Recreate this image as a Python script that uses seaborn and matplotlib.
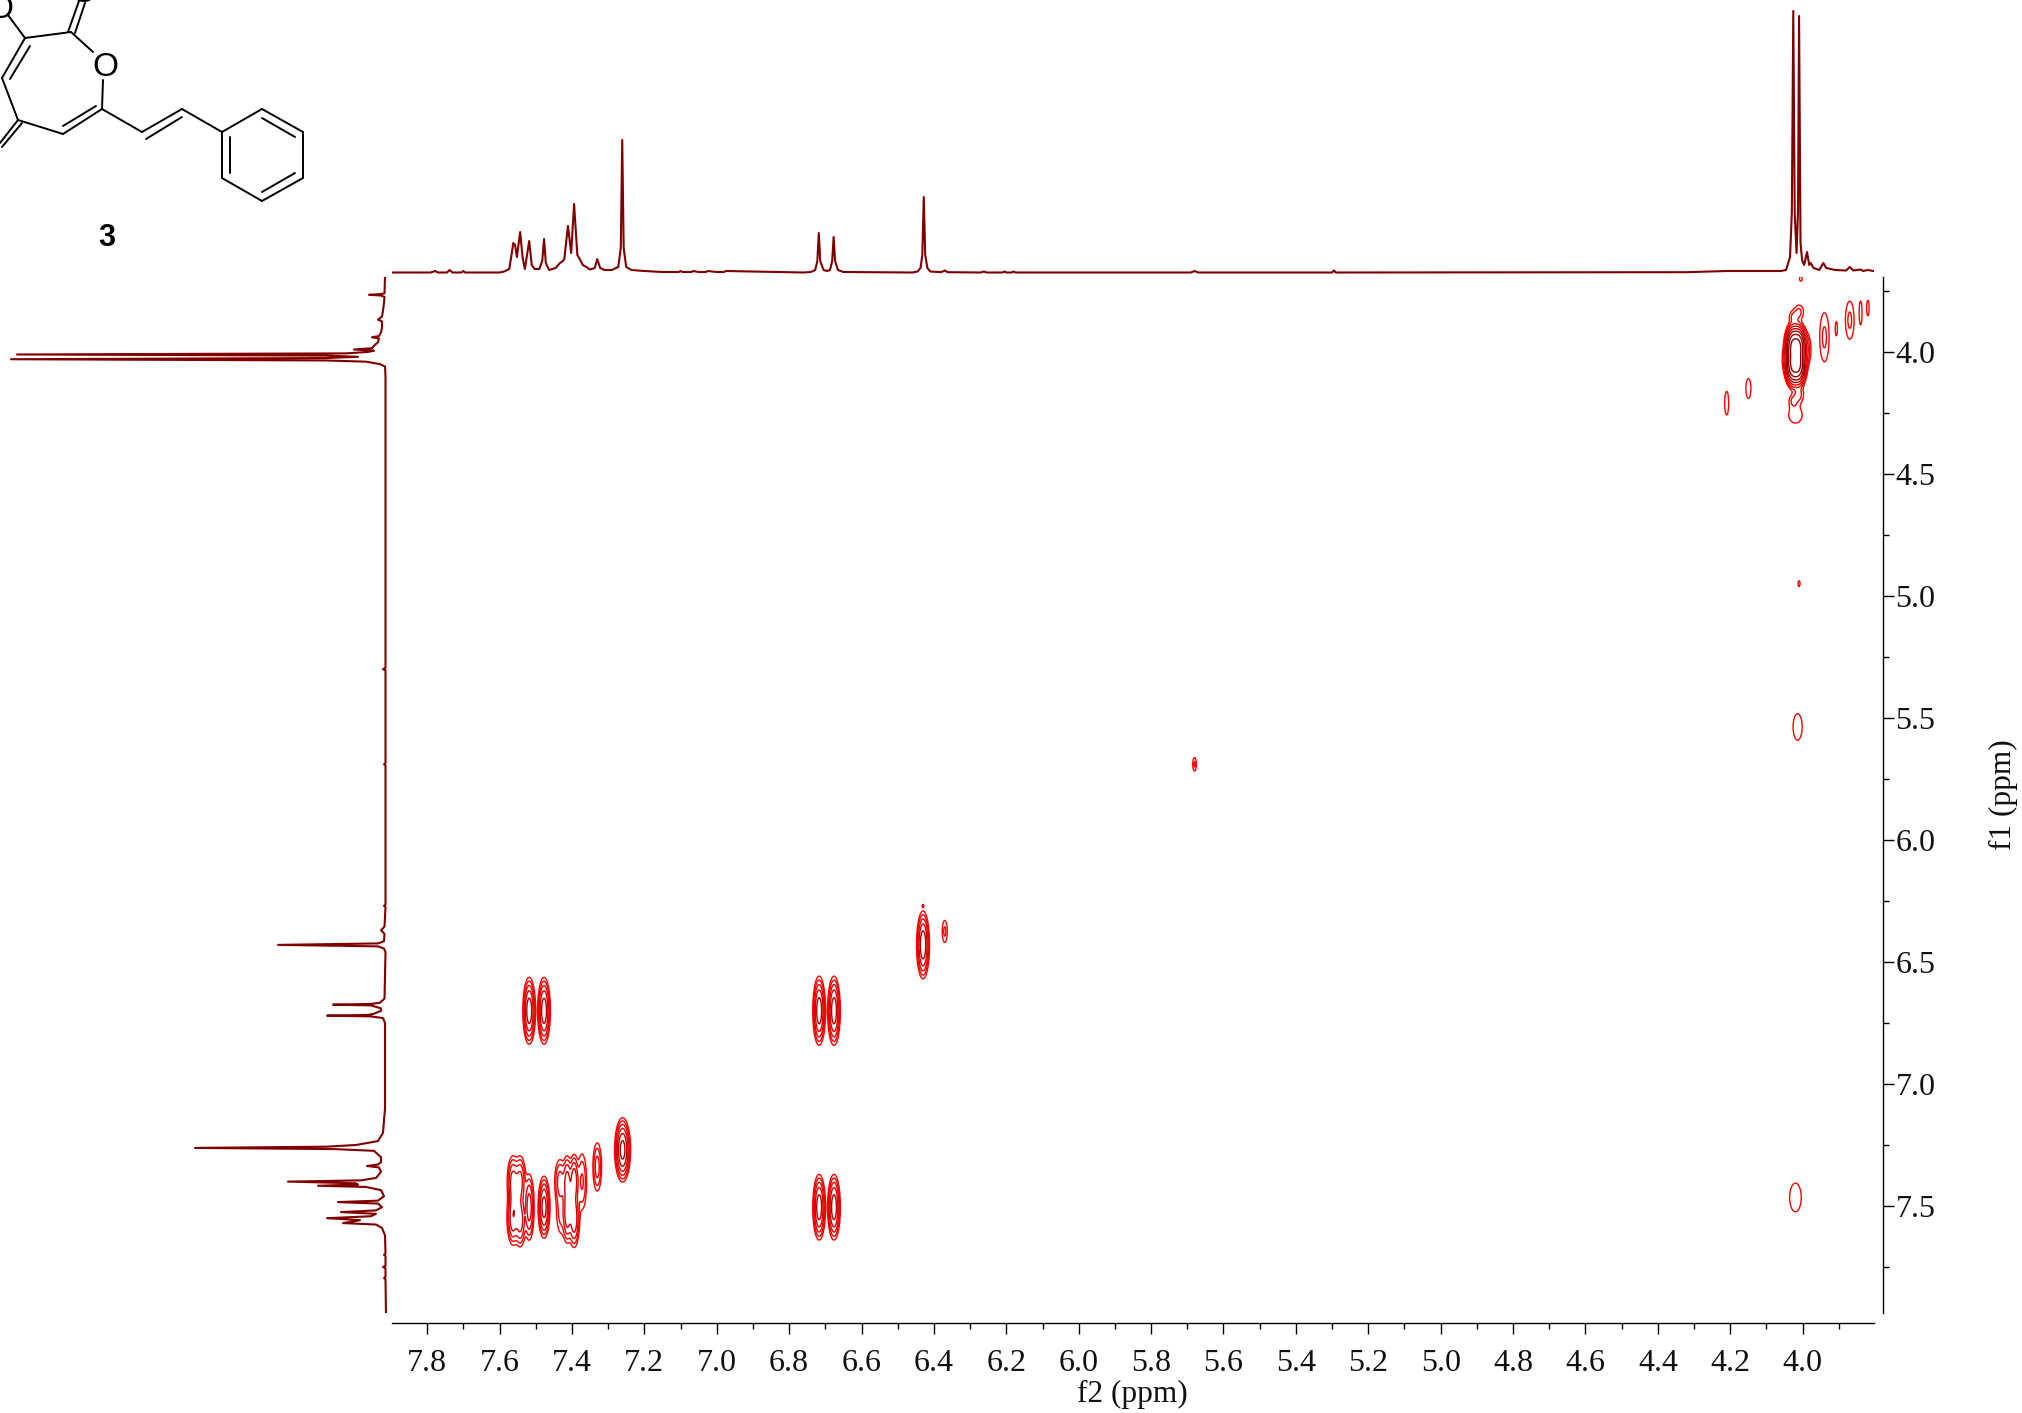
import numpy as np
import matplotlib
matplotlib.use('Agg')
import matplotlib.pyplot as plt
import seaborn as sns

# 1D projection on top: f2 ppm / height
top_ppm = [7.897, 7.79, 7.778, 7.77, 7.745, 7.738, 7.73, 7.705, 7.70, 7.695, 7.60, 7.587, 7.573, 7.566, 7.562, 7.557, 7.552,
           7.543, 7.536, 7.530, 7.518, 7.511, 7.503, 7.49, 7.482, 7.477, 7.472, 7.463, 7.445, 7.433, 7.425, 7.421, 7.411,
           7.402, 7.394, 7.385, 7.38, 7.37, 7.36, 7.35, 7.337, 7.33, 7.322, 7.31, 7.29, 7.272, 7.265, 7.261, 7.257, 7.25,
           7.235, 7.20, 7.15, 7.105, 7.10, 7.095, 7.07, 7.065, 7.05, 7.03, 7.025, 7.00, 6.98, 6.975, 6.76, 6.74, 6.728, 6.722,
           6.718, 6.714, 6.705, 6.695, 6.687, 6.681, 6.677, 6.673, 6.665, 6.65, 6.46, 6.445, 6.437, 6.432, 6.428, 6.424,
           6.418, 6.41, 6.38, 6.37, 6.362, 6.27, 6.262, 6.255, 6.21, 6.205, 6.20, 6.185, 6.18, 6.175, 5.69, 5.68, 5.67,
           5.30, 5.295, 5.29, 4.32, 4.21, 4.15, 4.10, 4.06, 4.046, 4.035, 4.03, 4.026, 4.022, 4.017, 4.013, 4.010, 4.006,
           4.0017, 3.996, 3.988, 3.982, 3.978, 3.97, 3.954, 3.943, 3.935, 3.91, 3.88, 3.87, 3.86, 3.84, 3.833, 3.82, 3.805]
top_int = [0.5, 0.5, 2, 0.5, 0.5, 3, 0.5, 0.5, 2, 0.5, 0.5, 1.5, 4, 20, 30, 28, 16,
           41, 15, 4, 32, 8, 4, 4, 12, 34, 10, 3, 5, 10, 12, 14, 47,
           20, 69, 18, 15, 8, 6, 3.5, 5, 14, 5, 3, 3, 6, 25, 133, 25, 6,
           3, 2, 1, 1, 2, 1, 1, 2, 1, 1, 2, 1, 1, 2, 0.5, 1, 3, 12,
           40, 12, 3, 2, 3, 12, 36, 12, 3, 1, 0.5, 1.5, 5, 18, 76, 18,
           5, 1.5, 0.8, 2.5, 0.8, 0.5, 1.5, 0.5, 0.5, 1.5, 0.5, 0.5, 1.5, 0.5, 0.5, 2, 0.5,
           0.5, 2.5, 0.5, 0.8, 2, 2, 2, 2, 3, 16, 60, 262, 60, 20, 60, 257, 30,
           13, 8, 21, 8, 10, 5, 3, 10, 5, 3, 2.5, 6, 2.5, 3.5, 2, 3, 2]

# 1D projection on the left: f1 ppm / height
left_ppm = [3.693, 3.76, 3.763, 3.766, 3.769, 3.775, 3.80, 3.83, 3.855, 3.868, 3.875, 3.90, 3.92, 3.935, 3.94, 3.945, 3.96,
            3.975, 3.985, 3.99, 3.995, 4.00, 4.006, 4.0105, 4.015, 4.02, 4.025, 4.03, 4.035, 4.04, 4.05, 4.06, 4.10, 4.95,
            5.295, 5.30, 5.305, 5.685, 5.69, 5.695, 6.265, 6.27, 6.275, 6.355, 6.37, 6.385, 6.415, 6.424, 6.43, 6.436, 6.445,
            6.46, 6.65, 6.667, 6.672, 6.675, 6.678, 6.69, 6.70, 6.712, 6.717, 6.72, 6.723, 6.73, 6.75, 7.10, 7.20, 7.234, 7.25,
            7.257, 7.262, 7.267, 7.274, 7.30, 7.32, 7.33, 7.336, 7.342, 7.36, 7.385, 7.395, 7.40, 7.407, 7.412, 7.417, 7.422,
            7.435, 7.46, 7.478, 7.484, 7.49, 7.505, 7.518, 7.525, 7.532, 7.542, 7.55, 7.558, 7.565, 7.57, 7.576, 7.59, 7.62,
            7.695, 7.70, 7.705, 7.745, 7.75, 7.755, 7.79, 7.795, 7.80, 7.948]
left_int = [1, 1.5, 5, 17, 5, 1.5, 2, 3, 4, 8, 4, 4, 5, 7, 14, 7, 8,
            12, 14, 32, 12, 18, 40, 369, 60, 28, 60, 375, 60, 20, 6, 1, 0.5, 0.5,
            0.5, 3, 0.5, 0.5, 2, 0.5, 0.5, 2, 0.5, 1.5, 5, 1.5, 2, 8, 108, 8, 2,
            0.5, 1.5, 6, 15, 53, 15, 5, 5, 12, 18, 59, 15, 3, 1, 1, 3, 8, 30,
            60, 191, 50, 12, 5, 5, 8, 19, 7, 5, 10, 25, 98, 30, 28, 68, 20,
            5, 2, 8, 48, 8, 4, 10, 45, 10, 15, 59, 26, 35, 43, 10, 4, 1,
            0.5, 2, 0.5, 0.5, 3, 0.5, 0.5, 2, 0.5, 0]

# cross peaks: f2, f1, spread in f2, spread in f1, amplitude
peak_f2 = [7.518, 7.477, 6.717, 6.676, 6.717, 6.676, 7.477, 6.43, 7.26, 7.33,
           7.563, 7.563, 7.543, 7.543, 7.518, 7.555,
           7.433, 7.413, 7.394, 7.372, 7.411, 7.413, 7.394, 7.43,
           4.027, 4.012, 4.027, 4.012, 3.995, 4.045,
           4.01, 4.026, 4.026, 4.01, 4.02,
           3.94, 3.87, 3.907, 3.84, 3.82, 4.15, 4.21, 4.005, 4.014, 4.02, 4.01, 5.68, 6.37, 6.43]
peak_f1 = [6.70, 6.70, 6.70, 6.70, 7.505, 7.505, 7.505, 6.43, 7.27, 7.34,
           7.40, 7.55, 7.40, 7.56, 7.505, 7.47,
           7.40, 7.40, 7.40, 7.40, 7.49, 7.55, 7.55, 7.53,
           3.978, 3.978, 4.052, 4.052, 3.99, 4.03,
           3.836, 3.856, 4.20, 4.176, 4.258,
           3.94, 3.87, 3.905, 3.84, 3.82, 4.15, 4.21, 3.70, 5.537, 7.465, 4.95, 5.69, 6.375, 6.27]
peak_sx = [0.0072, 0.0072, 0.0072, 0.0072, 0.0072, 0.0072, 0.0069, 0.0072, 0.0084, 0.0067,
           0.0075, 0.0075, 0.0075, 0.0075, 0.0064, 0.008,
           0.008, 0.006, 0.006, 0.0075, 0.006, 0.006, 0.007, 0.009,
           0.0085, 0.0085, 0.0085, 0.0085, 0.01, 0.007,
           0.0095, 0.0085, 0.0085, 0.0095, 0.017,
           0.0103, 0.0095, 0.003, 0.004, 0.0035, 0.0072, 0.0057, 0.006, 0.0115, 0.0148, 0.0045, 0.004, 0.0055, 0.002]
peak_sy = [0.056, 0.056, 0.058, 0.058, 0.055, 0.055, 0.053, 0.056, 0.05, 0.055,
           0.05, 0.05, 0.05, 0.05, 0.063, 0.05,
           0.05, 0.05, 0.05, 0.068, 0.05, 0.05, 0.054, 0.06,
           0.034, 0.034, 0.034, 0.034, 0.04, 0.03,
           0.022, 0.018, 0.018, 0.022, 0.031,
           0.08, 0.062, 0.03, 0.05, 0.033, 0.042, 0.05, 0.017, 0.05, 0.054, 0.02, 0.022, 0.036, 0.006]
peak_amp = [1.0, 1.0, 1.0, 1.0, 1.0, 1.0, 0.9, 1.1, 1.6, 0.25,
            0.45, 0.55, 0.45, 0.5, 0.5, 0.35,
            0.25, 0.45, 0.6, 0.2, 0.35, 0.35, 0.6, 0.12,
            4.9, 4.9, 4.9, 4.9, 0.25, 0.15,
            0.11, 0.1, 0.1, 0.11, 0.09,
            0.11, 0.11, 0.08, 0.08, 0.08, 0.08, 0.08, 0.06, 0.09, 0.09, 0.06, 0.11, 0.11, 0.06]

contour_levels = [0.05, 0.095, 0.18, 0.34, 0.65, 1.2, 2.3, 4.4, 8.4, 16]
contour_colors = ['#ff0000', '#f40000', '#e80000', '#d80000', '#b00000',
                  '#a00000', '#960000', '#8b0000', '#800000', '#700000']

f2_ticks = [7.8, 7.6, 7.4, 7.2, 7.0, 6.8, 6.6, 6.4, 6.2, 6.0, 5.8, 5.6, 5.4, 5.2, 5.0, 4.8, 4.6, 4.4, 4.2, 4.0]
f2_minor = [7.7, 7.5, 7.3, 7.1, 6.9, 6.7, 6.5, 6.3, 6.1, 5.9, 5.7, 5.5, 5.3, 5.1, 4.9, 4.7, 4.5, 4.3, 4.1, 3.9]
f1_ticks = [4.0, 4.5, 5.0, 5.5, 6.0, 6.5, 7.0, 7.5]
f1_minor = [3.75, 4.25, 4.75, 5.25, 5.75, 6.25, 6.75, 7.25, 7.75]

# structure drawing, pixels of the page
bonds = [
    (222, 132, 262, 109), (262, 109, 303, 132), (303, 132, 303, 178), (303, 178, 262, 201), (262, 201, 222, 178),
    (222, 178, 222, 132), (230, 137, 230, 173), (262, 118, 295, 137), (262, 192, 295, 173),
    (222, 132, 182, 109), (182, 109, 142, 132), (182, 117, 146, 139), (142, 132, 102, 109),
    (102, 109, 63, 134), (96, 106, 63, 126), (63, 134, 18, 120), (18, 120, 2, 78), (2, 78, 25, 38), (10, 79, 30, 46),
    (25, 38, 71, 32), (71, 32, 93, 52), (103, 80, 102, 109), (25, 38, 8, 15),
    (68, 32, 79, 1), (75, 33, 85, 3), (18, 120, 0, 143), (22, 123, 2, 147),
]

sns.set_theme(style='white')
plt.rcParams['font.family'] = ['Liberation Serif', 'DejaVu Serif']

W, H = 2022, 1413
fig = plt.figure(figsize=(W / 100, H / 100), dpi=100, facecolor='white')


def add_axes_px(x0, y0, x1, y1):
    return fig.add_axes([x0 / W, 1 - y1 / H, (x1 - x0) / W, (y1 - y0) / H])


xlim = (7.897, 3.803)
ylim = (7.9385, 3.693)

# main 2D panel
ax = add_axes_px(392, 277, 1874, 1313)
f2 = np.arange(3.80, 7.90, 0.0015)
f1 = np.arange(3.69, 7.94, 0.003)
z = np.zeros((len(f1), len(f2)))
for a, b, sa, sb, amp in zip(peak_f2, peak_f1, peak_sx, peak_sy, peak_amp):
    z += amp * np.outer(np.exp(-(f1 - b) ** 2 / (2 * sb ** 2)), np.exp(-(f2 - a) ** 2 / (2 * sa ** 2)))
ax.contour(f2, f1, z, levels=contour_levels, colors=contour_colors, linewidths=1.0)
ax.set_xlim(xlim)
ax.set_ylim(ylim)
for s in ['top', 'left']:
    ax.spines[s].set_visible(False)
for s in ['bottom', 'right']:
    ax.spines[s].set_color('black')
    ax.spines[s].set_linewidth(1.0)
ax.spines['bottom'].set_position(('outward', 7.2))
ax.spines['right'].set_position(('outward', 6.5))
ax.yaxis.tick_right()
ax.set_xticks(f2_ticks)
ax.set_xticks(f2_minor, minor=True)
ax.set_yticks(f1_ticks)
ax.set_yticks(f1_minor, minor=True)
ax.set_xticklabels([f'{t:.1f}' for t in f2_ticks])
ax.set_yticklabels([f'{t:.1f}' for t in f1_ticks])
ax.tick_params(axis='x', which='major', length=8, width=1.0, labelsize=23, pad=10.5, color='black', labelcolor='#111111', bottom=True)
ax.tick_params(axis='y', which='major', length=8, width=1.0, labelsize=23, pad=1, color='black', labelcolor='#111111', right=True)
ax.tick_params(which='minor', length=4, width=1.0, color='black', bottom=True, right=True)
ax.set_xlabel('f2 (ppm)', fontsize=22.5, color='#111111', va='center')
ax.xaxis.set_label_coords(0.4993, -0.0785)
ax.yaxis.set_label_position('right')
ax.set_ylabel('f1 (ppm)', fontsize=22.5, color='#111111', rotation=90, va='center', ha='center')
ax.yaxis.set_label_coords(1.0875, 0.5)

# top projection
ax_top = add_axes_px(392, 0, 1874, 275)
sns.lineplot(x=top_ppm, y=top_int, sort=False, estimator=None, color='#800000', linewidth=1.5, ax=ax_top)
ax_top.set_xlim(xlim)
ax_top.set_ylim(-2, 273)
ax_top.axis('off')

# left projection
ax_left = add_axes_px(0, 277, 392, 1313)
sns.lineplot(x=left_int, y=left_ppm, sort=False, estimator=None, orient='y', color='#800000', linewidth=1.5, ax=ax_left)
ax_left.set_xlim(386, -6)
ax_left.set_ylim(ylim)
ax_left.axis('off')

# structure
ax_s = fig.add_axes([0, 0, 1, 1])
ax_s.set_xlim(0, W)
ax_s.set_ylim(H, 0)
ax_s.axis('off')
ax_s.patch.set_alpha(0)
for x0, y0, x1, y1 in bonds:
    ax_s.plot([x0, x1], [y0, y1], color='black', linewidth=1.4, solid_capstyle='round')
ax_s.text(105, 68, 'O', ha='center', va='center', fontsize=24, family=['Liberation Sans'], color='black')
ax_s.text(83, -6, 'O', ha='center', va='center', fontsize=24, family=['Liberation Sans'], color='black')
ax_s.text(0, 10, 'O', ha='center', va='center', fontsize=24, family=['Liberation Sans'], color='black')
ax_s.text(107, 238, '3', ha='center', va='center', fontsize=22, fontweight='bold', family=['Liberation Sans'], color='black')

fig.savefig('out.png', dpi=100)
